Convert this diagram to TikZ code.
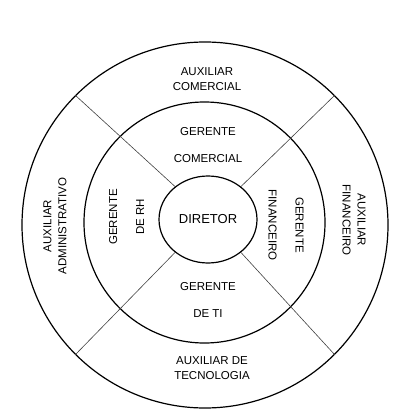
\documentclass[tikz,border=0pt]{standalone}
\usepackage{fontspec}
\setmainfont{Liberation Sans}
\usepackage{tikz}
\usetikzlibrary{shapes.geometric}

\begin{document}
\begin{tikzpicture}[x=1pt, y=-1pt,
      ring/.style={circle, draw=black, line width=1.2pt, inner sep=0pt},
      core/.style={ellipse, draw=black, line width=1.2pt, inner sep=0pt,
        font=\fontsize{13}{15}\selectfont},
      spoke/.style={draw=black!75, line width=0.6pt},
      outerlbl/.style={align=center, inner sep=0pt, font=\fontsize{11.5}{15}\selectfont},
      midlbl/.style={align=center, inner sep=0pt, font=\fontsize{11.5}{27}\selectfont}
    ]
      \useasboundingbox (0,0) rectangle (410,414);
      \node[ring, minimum size=366pt] (outer) at (205,225) {};
      \node[ring, minimum size=241pt] (mid) at (204.5,222.5) {};
      \node[core, minimum width=98pt, minimum height=87pt] (dir) at (208,219.5) {DIRETOR};
      % spokes between the rings
      \draw[spoke] (dir.45) -- (outer.45);
      \draw[spoke] (dir.135) -- (outer.135);
      \draw[spoke] (dir.225) -- (outer.225);
      \draw[spoke] (dir.315) -- (outer.315);
      % middle ring
      \node[midlbl] (gcom) at (208,145.5) {GERENTE\\COMERCIAL};
      \node[midlbl] (gti) at (208,299.5) {GERENTE\\DE TI};
      \node[midlbl, rotate=90] (grh) at (126.5,217) {GERENTE\\DE RH};
      \node[midlbl, rotate=-90] (gfin) at (286,225) {GERENTE\\FINANCEIRO};
      % outer ring
      \node[outerlbl] (acom) at (207,79.5) {AUXILIAR\\COMERCIAL};
      \node[outerlbl] (atec) at (212,368.5) {AUXILIAR DE\\TECNOLOGIA};
      \node[outerlbl, rotate=90] (aadm) at (55,226) {AUXILIAR\\ADMINISTRATIVO};
      \node[outerlbl, rotate=-90] (afin) at (354,220) {AUXILIAR\\FINANCEIRO};
    \end{tikzpicture}
\end{document}
